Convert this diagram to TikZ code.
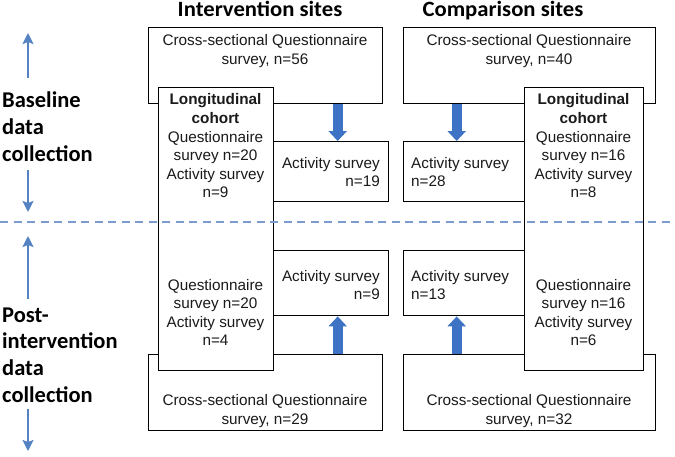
\documentclass[tikz,border=0pt]{standalone}
\usepackage{fontspec}
\usepackage{xcolor}
\usetikzlibrary{arrows.meta, positioning, calc}
\newfontfamily\boxfont{Liberation Sans}
\newfontfamily\headfont{Carlito}
\newfontfamily\sitefont[FakeStretch=1.04]{Carlito}
\definecolor{arrowblue}{HTML}{3D72C4}
\definecolor{sideblue}{HTML}{5583C2}
\definecolor{dashblue}{HTML}{7B9CCD}
\definecolor{textdark}{HTML}{1A1A1A}
\tikzstyle{surveybox} = [draw=black, line width=1.4pt, fill=white, inner sep=0pt, anchor=north west]
\tikzstyle{surveytext} = [font=\boxfont\fontsize{15.3}{18.6}\selectfont, text=textdark, align=center, inner sep=0pt]
\tikzstyle{sitehead} = [font=\sitefont\bfseries\fontsize{21.8}{25}\selectfont, inner sep=0pt, anchor=base]
\tikzstyle{phase} = [font=\headfont\bfseries\fontsize{22.5}{26.7}\selectfont, align=left, inner sep=0pt, anchor=west]
\tikzstyle{fatarrow} = [line width=10pt, draw=arrowblue, -{Triangle[width=18pt, length=10pt]}]
\tikzstyle{phasearrow} = [line width=2pt, draw=sideblue, -{Stealth[width=11pt, length=11pt, inset=2pt]}]
\tikzstyle{divider} = [draw=dashblue, line width=2pt, dash pattern=on 8pt off 5.5pt]

\begin{document}
\begin{tikzpicture}[x=1pt, y=-1pt]
    \useasboundingbox (0,0) rectangle (675,456);

    % Headers
    \node[sitehead] (ihead) at (260,16.3) {Intervention sites};
    \node[sitehead] (chead) at (503,16.5) {Comparison sites};

    % Phase labels
    \node[phase] (basetxt) at (2,126.6) {Baseline\\data\\collection};
    \node[phase] (posttxt) at (2,355) {Post-\\intervention\\data\\collection};

    % Intervention boxes
    \node[surveybox, minimum width=234pt, minimum height=76pt] (icross) at (148,27) {};
    \node[surveybox, minimum width=234pt, minimum height=76pt] (icrosspost) at (148,354) {};
    \node[surveybox, minimum width=115pt, minimum height=283pt] (ilong) at (158,87) {};
    \node[surveybox, minimum width=115pt, minimum height=60pt] (iact) at (273,141) {};
    \node[surveybox, minimum width=115pt, minimum height=65pt] (iactpost) at (273,250) {};

    % Comparison boxes
    \node[surveybox, minimum width=252pt, minimum height=76pt] (ccross) at (403,27) {};
    \node[surveybox, minimum width=252pt, minimum height=76pt] (ccrosspost) at (403,354) {};
    \node[surveybox, minimum width=121pt, minimum height=60pt] (cact) at (403,141) {};
    \node[surveybox, minimum width=121pt, minimum height=65pt] (cactpost) at (403,250) {};
    \node[surveybox, minimum width=119pt, minimum height=283pt] (clong) at (524,87) {};

    % Box texts
    \node[surveytext] (icrosstxt) at (265,51) {Cross-sectional Questionnaire\\survey, n=56};
    \node[surveytext] (ccrosstxt) at (529,51) {Cross-sectional Questionnaire\\survey, n=40};
    \node[surveytext] (icrossposttxt) at (265,411) {Cross-sectional Questionnaire\\survey, n=29};
    \node[surveytext] (ccrossposttxt) at (529,411) {Cross-sectional Questionnaire\\survey, n=32};
    \node[surveytext] (ilongtxt) at (215.5,146) {\textbf{Longitudinal}\\\textbf{cohort}\\Questionnaire\\survey n=20\\Activity survey\\n=9};
    \node[surveytext] (clongtxt) at (583.5,146) {\textbf{Longitudinal}\\\textbf{cohort}\\Questionnaire\\survey n=16\\Activity survey\\n=8};
    \node[surveytext] (ilongposttxt) at (215.5,312.5) {Questionnaire\\survey n=20\\Activity survey\\n=4};
    \node[surveytext] (clongposttxt) at (583.5,312.5) {Questionnaire\\survey n=16\\Activity survey\\n=6};
    \node[surveytext, align=right, anchor=east] (iacttxt) at (380,172) {Activity survey\\n=19};
    \node[surveytext, align=right, anchor=east] (iactposttxt) at (380,285) {Activity survey\\n=9};
    \node[surveytext, align=left, anchor=west] (cacttxt) at (411,172) {Activity survey\\n=28};
    \node[surveytext, align=left, anchor=west] (cactposttxt) at (411,285) {Activity survey\\n=13};

    % Block arrows
    \coordinate[right=72pt of icross.south] (ifrom);
    \coordinate[left=73pt of ccross.south] (cfrom);
    \coordinate[right=72pt of icrosspost.north] (ifrompost);
    \coordinate[left=73pt of ccrosspost.north] (cfrompost);
    \draw[fatarrow] (ifrom) -- (ifrom |- iact.north);
    \draw[fatarrow] (cfrom) -- (cfrom |- cact.north);
    \draw[fatarrow] (ifrompost) -- (ifrompost |- iactpost.south);
    \draw[fatarrow] (cfrompost) -- (cfrompost |- cactpost.south);

    % Phase arrows
    \coordinate (baseup) at (28,78);
    \coordinate (baseuptip) at (28,33);
    \coordinate (basedown) at (28,170);
    \coordinate (basedowntip) at (28,212);
    \coordinate (postup) at (28,299);
    \coordinate (postuptip) at (28,236);
    \coordinate (postdown) at (28,409);
    \coordinate (postdowntip) at (28,451);
    \draw[phasearrow] (baseup) -- (baseuptip);
    \draw[phasearrow] (basedown) -- (basedowntip);
    \draw[phasearrow] (postup) -- (postuptip);
    \draw[phasearrow] (postdown) -- (postdowntip);

    % Divider
    \coordinate (divleft) at (0,222);
    \coordinate (divright) at (675,222);
    \draw[divider] (divleft) -- (divright);
\end{tikzpicture}
\end{document}
